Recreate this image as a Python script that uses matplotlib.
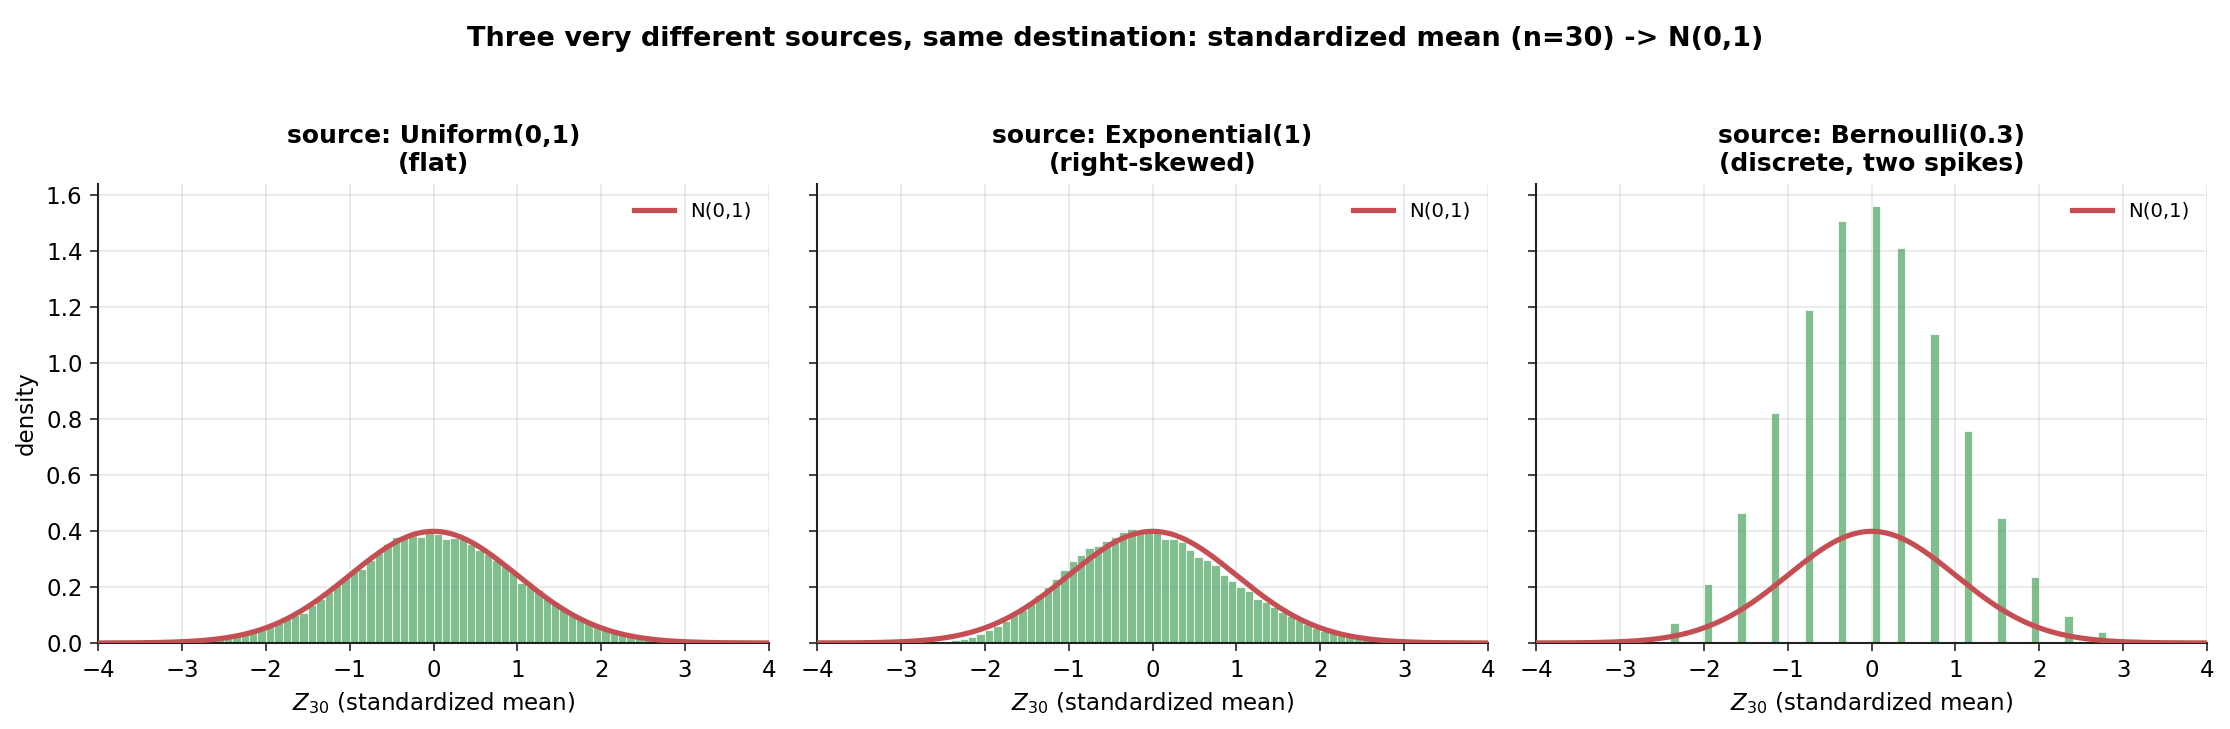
import numpy as np
import matplotlib
matplotlib.use("Agg")
import matplotlib.pyplot as plt

# ---------------- data ----------------
bin_edges = np.round(np.linspace(-4.0, 4.0, 81), 2)   # bins of width 0.1

uniform_density = [
    0, 0, 0, 0, 0,
    0.0006, 0.001, 0.0015, 0.0024, 0.0032, 0.0045, 0.0062, 0.0085, 0.011, 0.0145,
    0.019, 0.024, 0.031, 0.039, 0.048, 0.057, 0.071, 0.085, 0.101, 0.106,
    0.136, 0.158, 0.181, 0.206, 0.235, 0.259, 0.264, 0.298, 0.321, 0.355,
    0.378, 0.376, 0.381, 0.378, 0.392,
    0.390, 0.372, 0.376, 0.370, 0.355, 0.334, 0.318, 0.296, 0.283, 0.254,
    0.216, 0.203, 0.190, 0.163, 0.145, 0.120, 0.101, 0.085, 0.071, 0.058,
    0.047, 0.038, 0.031, 0.024, 0.019, 0.0145, 0.011, 0.0085, 0.006, 0.0045,
    0.0032, 0.0022, 0.0015, 0.001, 0.0006,
    0, 0, 0, 0, 0,
]

exponential_density = [
    0, 0, 0, 0, 0, 0, 0, 0, 0, 0, 0, 0, 0,
    0.001, 0.002, 0.005, 0.009, 0.015, 0.023, 0.033, 0.046, 0.062, 0.079,
    0.107, 0.119, 0.143, 0.172, 0.201, 0.230, 0.259, 0.292, 0.314, 0.338,
    0.345, 0.364, 0.378, 0.396, 0.406, 0.398, 0.399,
    0.394, 0.370, 0.370, 0.360, 0.334, 0.307, 0.295, 0.277, 0.244, 0.220,
    0.201, 0.187, 0.158, 0.145, 0.127, 0.110, 0.097, 0.083, 0.067, 0.055,
    0.043, 0.035, 0.030, 0.025, 0.020, 0.016, 0.013, 0.010, 0.008, 0.006,
    0.005, 0.004, 0.003, 0.0025, 0.002, 0.0015, 0.001, 0.001, 0.0007, 0.0005,
]

# Bernoulli(0.3), n=30: number of successes k and histogram density
bern_k = [3, 4, 5, 6, 7, 8, 9, 10, 11, 12, 13, 14, 15, 16, 17]
bern_density = [0.072, 0.212, 0.466, 0.821, 1.191, 1.508, 1.563, 1.412,
                1.104, 0.756, 0.445, 0.237, 0.097, 0.040, 0.015]
n_obs = 30
p_bern = 0.3

titles = ["source: Uniform(0,1)\n(flat)",
          "source: Exponential(1)\n(right-skewed)",
          "source: Bernoulli(0.3)\n(discrete, two spikes)"]
suptitle = "Three very different sources, same destination: standardized mean (n=30) -> N(0,1)"
xlabel = "$Z_{30}$ (standardized mean)"
ylabel = "density"
legend_label = "N(0,1)"
xticks = [-4, -3, -2, -1, 0, 1, 2, 3, 4]
yticks = [0.0, 0.2, 0.4, 0.6, 0.8, 1.0, 1.2, 1.4, 1.6]

# ---------------- drawing ----------------
plt.rcParams['font.family'] = ['DejaVu Sans']
bar_color = "#55A868"
curve_color = "#C44E52"

fig = plt.figure(figsize=(2230 / 150, 729 / 150), dpi=150)
axes = fig.subplots(1, 3, sharey=True)
fig.subplots_adjust(left=0.044, right=0.9897, bottom=0.118, top=0.748, wspace=0.072)

centers = (bin_edges[:-1] + bin_edges[1:]) / 2
bern_z = (np.array(bern_k) - n_obs * p_bern) / np.sqrt(n_obs * p_bern * (1 - p_bern))

series = [(centers, uniform_density), (centers, exponential_density), (bern_z, bern_density)]

xs = np.linspace(-4, 4, 400)
pdf = np.exp(-xs ** 2 / 2) / np.sqrt(2 * np.pi)

for i, ax in enumerate(axes):
    vals, w = series[i]
    ax.hist(vals, bins=bin_edges, weights=w, color=bar_color, alpha=0.75,
            edgecolor="white", linewidth=0.5, zorder=2)
    ax.plot(xs, pdf, color=curve_color, lw=2.5, label=legend_label, zorder=3)
    ax.set_xlim(-4, 4)
    ax.set_ylim(0, 1.641)
    ax.set_xticks(xticks)
    ax.set_yticks(yticks)
    ax.grid(True, color="#b0b0b0", alpha=0.3, linewidth=0.8, zorder=0)
    ax.set_axisbelow(True)
    for s in ["top", "right"]:
        ax.spines[s].set_visible(False)
    for s in ["left", "bottom"]:
        ax.spines[s].set_color("#222222")
        ax.spines[s].set_linewidth(1.0)
    ax.tick_params(axis="both", labelsize=11, color="#222222", length=4)
    ax.set_title(titles[i], fontsize=12, fontweight="bold")
    ax.set_xlabel(xlabel, fontsize=11)
    ax.legend(loc="upper right", frameon=False, fontsize=9.5)

axes[0].set_ylabel(ylabel, fontsize=11)
fig.suptitle(suptitle, fontsize=13, fontweight="bold", y=0.965)

fig.savefig("out.png", dpi=150)
